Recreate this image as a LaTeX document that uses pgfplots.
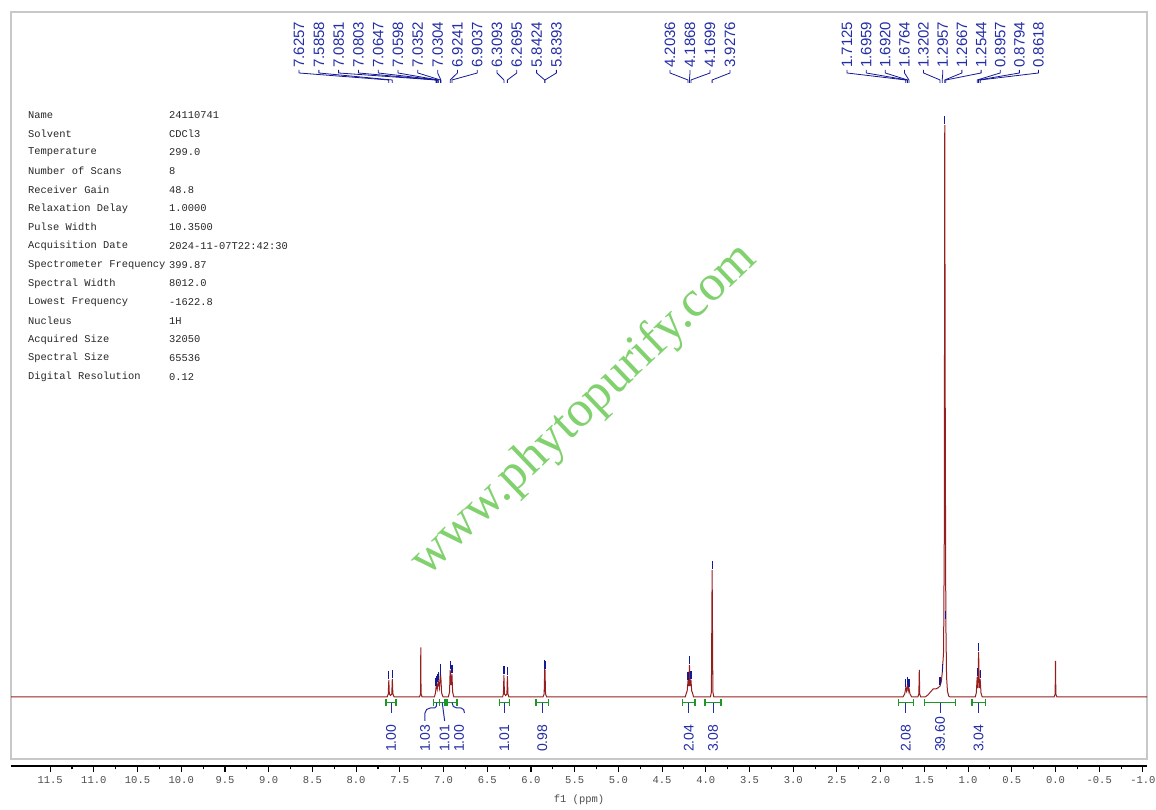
\documentclass[border=0pt]{standalone}
\usepackage{fontspec}
\setmainfont{Liberation Serif}
\setsansfont{Liberation Sans}
\setmonofont{Liberation Mono}
\usepackage{pgfplots}
\pgfplotsset{compat=1.18}

\definecolor{spec}{RGB}{150,30,30}
\definecolor{pick}{RGB}{20,25,150}
\definecolor{labblue}{RGB}{35,45,165}
\definecolor{intgreen}{RGB}{30,150,40}
\definecolor{framegray}{RGB}{200,200,200}
\definecolor{wmark}{RGB}{115,205,95}

% peak label: #1 label position (ppm), #2 peak position (ppm)
\newcommand{\pk}[2]{%
  \draw[pick, line width=0.8pt] (axis cs:#1,627) -- (axis cs:#1,624) -- (axis cs:#2,617) -- (axis cs:#2,614);
  \node[rotate=90, anchor=west, inner sep=0pt, text=labblue, font=\sffamily\fontsize{15}{16}\selectfont] at (axis cs:#1,629) {#2};}
% integral: #1 from, #2 to, #3 label position, #4 value
\newcommand{\integ}[4]{%
  \draw[intgreen, line width=1.2pt] (axis cs:#1,-5.7) -- (axis cs:#2,-5.7);
  \draw[intgreen, line width=1.2pt] (axis cs:#1,-2.5) -- (axis cs:#1,-8.9);
  \draw[intgreen, line width=1.2pt] (axis cs:#2,-2.5) -- (axis cs:#2,-8.9);
  \node[rotate=90, anchor=west, inner sep=0pt, text=labblue, font=\sffamily\fontsize{14}{15}\selectfont] at (axis cs:#3,-55) {#4};}

\begin{document}
\begin{tikzpicture}[x=1pt,y=1pt]
\path (0,0) rectangle (1156,810);

% watermark
\node[rotate=43.7, text=wmark, opacity=0.9, font=\rmfamily\fontsize{51}{54}\selectfont] at (584,400) {www.phytopurify.com};

\begin{axis}[
    at={(1055.5pt,113pt)}, anchor=origin,
    scale only axis, width=1136pt, height=747pt,
    xmin=-1.047, xmax=11.947, x dir=reverse,
    ymin=-62, ymax=685,
    axis line style={framegray, line width=1.3pt},
    ticks=none, clip=false,
  ]
  \addplot[spec, line width=1pt] coordinates {
    (11.947,0) (7.645,0) (7.632,3) (7.6257,17) (7.620,3) (7.606,1.5) (7.592,3) (7.5858,18) (7.579,3) (7.565,0)
    (7.275,0) (7.263,3) (7.260,49.5) (7.257,3) (7.245,0)
    (7.105,0) (7.092,4) (7.0851,10) (7.0827,8) (7.0803,12) (7.072,8) (7.0647,14) (7.0622,11) (7.0598,16)
    (7.047,9) (7.0352,24) (7.0328,17) (7.0304,20) (7.022,4) (7.005,0)
    (6.945,0) (6.931,5) (6.9241,27) (6.914,12) (6.9037,23) (6.896,5) (6.882,0)
    (6.325,0) (6.315,3) (6.3093,22) (6.303,3) (6.289,1.5) (6.275,3) (6.2695,21) (6.263,3) (6.252,0)
    (5.862,0) (5.849,3) (5.8424,28) (5.8408,24) (5.8393,27) (5.833,3) (5.820,0)
    (4.235,0) (4.222,4) (4.213,6) (4.2036,16) (4.195,11) (4.1868,32) (4.178,11) (4.1699,17) (4.161,6) (4.152,4) (4.140,0)
    (3.947,0) (3.936,5) (3.9276,127) (3.919,5) (3.908,0)
    (1.745,0) (1.725,3) (1.7125,9) (1.704,6) (1.6959,11) (1.694,9) (1.6920,11) (1.684,6) (1.6764,9) (1.664,3) (1.645,0)
    (1.575,0) (1.563,3) (1.558,27) (1.553,3) (1.542,0)
    (1.490,0) (1.460,2) (1.430,5) (1.400,8) (1.370,8) (1.345,9) (1.3202,11) (1.305,16) (1.2957,24) (1.280,45)
    (1.272,160) (1.2667,572) (1.2605,260) (1.2544,77) (1.246,20) (1.236,6) (1.222,1) (1.205,0)
    (0.918,0) (0.906,4) (0.8957,20) (0.888,9) (0.8794,45) (0.871,9) (0.8618,18) (0.852,4) (0.838,0)
    (0.016,0) (0.004,3) (0.000,36) (-0.004,3) (-0.016,0)
    (-1.047,0)
  };
  % peak picking marks
  \addplot[only marks, mark=|, mark size=4pt, pick, mark options={line width=1.2pt}] coordinates {
    (7.6257,22) (7.5858,23) (7.0851,15) (7.0803,17) (7.0647,19) (7.0598,21) (7.0352,29) (7.0304,25)
    (6.9241,32) (6.9037,28) (6.3093,27) (6.2695,26) (5.8424,33) (5.8393,32)
    (4.2036,21) (4.1868,37) (4.1699,22) (3.9276,132)
    (1.7125,14) (1.6959,16) (1.6920,16) (1.6764,14) (1.3202,16) (1.2957,29) (1.2667,577) (1.2544,82)
    (0.8957,25) (0.8794,50) (0.8618,23)
  };

  \pk{8.653}{7.6257} \pk{8.426}{7.5858} \pk{8.200}{7.0851} \pk{7.973}{7.0803}
  \pk{7.747}{7.0647} \pk{7.520}{7.0598} \pk{7.294}{7.0352} \pk{7.067}{7.0304}
  \pk{6.841}{6.9241} \pk{6.614}{6.9037} \pk{6.388}{6.3093} \pk{6.162}{6.2695}
  \pk{5.935}{5.8424} \pk{5.709}{5.8393}
  \pk{4.409}{4.2036} \pk{4.181}{4.1868} \pk{3.952}{4.1699} \pk{3.723}{3.9276}
  \pk{2.385}{1.7125} \pk{2.165}{1.6959} \pk{1.947}{1.6920} \pk{1.727}{1.6764}
  \pk{1.509}{1.3202} \pk{1.289}{1.2957} \pk{1.071}{1.2667} \pk{0.851}{1.2544}
  \pk{0.633}{0.8957} \pk{0.413}{0.8794} \pk{0.194}{0.8618}

  \integ{7.657}{7.543}{7.600}{1.00}
  \integ{7.114}{7.046}{7.212}{1.03}
  \integ{7.046}{6.983}{6.987}{1.01}
  \integ{6.960}{6.845}{6.822}{1.00}
  \integ{6.362}{6.247}{6.305}{1.01}
  \integ{5.942}{5.801}{5.871}{0.98}
  \integ{4.264}{4.123}{4.193}{2.04}
  \integ{4.009}{3.826}{3.917}{3.08}
  \integ{1.798}{1.626}{1.712}{2.08}
  \integ{1.501}{1.141}{1.321}{39.60}
  \integ{0.955}{0.803}{0.879}{3.04}
  % stems
  \draw[labblue, line width=1pt] (axis cs:7.600,-5.7) -- (axis cs:7.600,-15.7);
  \draw[labblue, line width=1pt] (axis cs:6.305,-5.7) -- (axis cs:6.305,-15.7);
  \draw[labblue, line width=1pt] (axis cs:5.871,-5.7) -- (axis cs:5.871,-15.7);
  \draw[labblue, line width=1pt] (axis cs:4.193,-5.7) -- (axis cs:4.193,-15.7);
  \draw[labblue, line width=1pt] (axis cs:3.917,-5.7) -- (axis cs:3.917,-15.7);
  \draw[labblue, line width=1pt] (axis cs:1.712,-5.7) -- (axis cs:1.712,-15.7);
  \draw[labblue, line width=1pt] (axis cs:1.321,-5.7) -- (axis cs:1.321,-15.7);
  \draw[labblue, line width=1pt] (axis cs:0.879,-5.7) -- (axis cs:0.879,-15.7);
  \draw[labblue, line width=1pt] (axis cs:7.212,-24) -- (axis cs:7.212,-16) to[out=90,in=180] (axis cs:7.15,-11) -- (axis cs:7.10,-11) to[out=0,in=270] (axis cs:7.080,-5.7);
  \draw[labblue, line width=1pt] (axis cs:7.0145,-5.7) -- (axis cs:6.987,-24);
  \draw[labblue, line width=1pt] (axis cs:6.9025,-5.7) to[out=270,in=180] (axis cs:6.85,-11) -- (axis cs:6.80,-11) to[out=0,in=90] (axis cs:6.76,-16);
\end{axis}

% ppm axis
\begin{axis}[
    at={(1055.5pt,44pt)}, anchor=origin,
    scale only axis, width=1136pt, height=5pt,
    xmin=-1.047, xmax=11.947, x dir=reverse,
    ymin=0, ymax=1,
    axis x line=bottom, axis y line=none,
    axis line style={-, black, line width=1.3pt},
    xtick={-1,-0.5,0,0.5,1,1.5,2,2.5,3,3.5,4,4.5,5,5.5,6,6.5,7,7.5,8,8.5,9,9.5,10,10.5,11,11.5},
    minor x tick num=1, tick align=outside,
    major tick length=6pt, minor tick length=3.5pt,
    every tick/.style={black, line width=1.1pt},
    xticklabel style={font=\ttfamily\fontsize{10.5}{12}\selectfont, text=black!70, inner sep=1pt, yshift=-3pt},
    xlabel={f1 (ppm)},
    xlabel style={font=\ttfamily\fontsize{10.5}{12}\selectfont, text=black!70, yshift=-7pt},
    /pgf/number format/.cd, fixed, fixed zerofill, precision=1, assume math mode=true,
  ]
\end{axis}

% parameter table
\foreach \n/\v [count=\i from 0] in {
  Name/24110741, Solvent/CDCl3, Temperature/299.0, Number of Scans/8, Receiver Gain/48.8,
  Relaxation Delay/1.0000, Pulse Width/10.3500, Acquisition Date/2024-11-07T22:42:30,
  Spectrometer Frequency/399.87, Spectral Width/8012.0, Lowest Frequency/-1622.8,
  Nucleus/1H, Acquired Size/32050, Spectral Size/65536, Digital Resolution/0.12} {
  \node[anchor=west, inner sep=0pt, text=black!85, font=\ttfamily\fontsize{10.4}{12}\selectfont] at (28,695-18.71*\i) {\n};
  \node[anchor=west, inner sep=0pt, text=black!85, font=\ttfamily\fontsize{10.4}{12}\selectfont] at (169,695-18.71*\i) {\v};
}
\pgfresetboundingbox
\path[use as bounding box] (0,0) rectangle (1156,810);
\end{tikzpicture}
\end{document}
